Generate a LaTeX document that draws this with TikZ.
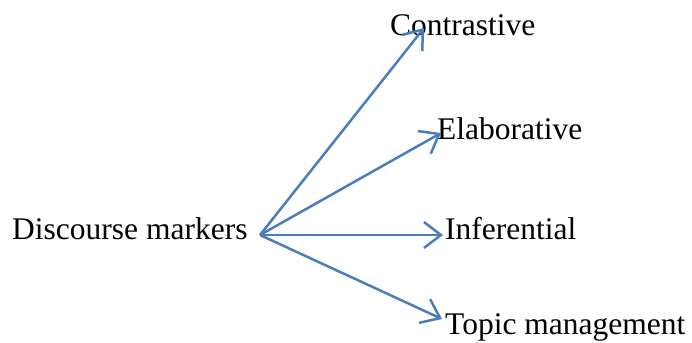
\documentclass[tikz,border=0pt]{standalone}
\usepackage{fontspec}
\setmainfont{Liberation Serif}
\usetikzlibrary{arrows.meta}
\definecolor{arrowblue}{RGB}{74,126,187}
\begin{document}
\begin{tikzpicture}[x=1pt,y=1pt,
  lbl/.style={anchor=base west,inner sep=0pt,font=\fontsize{31.5}{36}\selectfont},
  conn/.style={draw=arrowblue,line width=2.5pt,-{Straight Barb[length=17pt,width=26pt,line width=2.5pt]}}]
\useasboundingbox (0,0) rectangle (692,342);
\node[lbl] (dm) at (12,102) {Discourse markers};
\node[lbl] (con) at (390,306) {Contrastive};
\node[lbl] (ela) at (437,202) {Elaborative};
\node[lbl] (inf) at (445,102) {Inferential};
\node[lbl] (top) at (445,7) {Topic management};
\coordinate (src) at (260,107);
\coordinate (tcon) at (424,314);
\coordinate (tela) at (441,209);
\coordinate (tinf) at (443,107);
\coordinate (ttop) at (442,23);
\draw[conn] (src) -- (tcon);
\draw[conn] (src) -- (tela);
\draw[conn] (src) -- (tinf);
\draw[conn] (src) -- (ttop);
\end{tikzpicture}
\end{document}
